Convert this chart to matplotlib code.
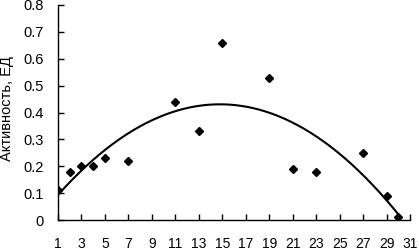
import numpy as np
import matplotlib
matplotlib.use('Agg')
import matplotlib.pyplot as plt

plt.rcParams['font.family'] = ['Liberation Sans', 'DejaVu Sans']

# measured points
days = [1, 2, 3, 4, 5, 7, 11, 13, 15, 19, 21, 23, 27, 29, 30]
activity = [0.11, 0.18, 0.20, 0.20, 0.23, 0.22, 0.44, 0.33, 0.66, 0.53, 0.19, 0.18, 0.25, 0.09, 0.01]
x_ticks = list(range(1, 32, 2))
y_ticks = [0, 0.1, 0.2, 0.3, 0.4, 0.5, 0.6, 0.7, 0.8]
y_labels = ['0', '0.1', '0.2', '0.3', '0.4', '0.5', '0.6', '0.7', '0.8']

fig = plt.figure(figsize=(4.19, 2.5), dpi=100)
ax = fig.add_axes([58 / 419, 30 / 250, 352 / 419, 215 / 250])

# polynomial trend line (order 2), as in the source chart
coef = np.polyfit(days, activity, 2)
xs = np.linspace(days[0], days[-1], 200)
ax.plot(xs, np.polyval(coef, xs), color='black', lw=1.5)

ax.plot(days, activity, linestyle='none', marker='D', color='black', ms=4)

ax.set_xlim(1, 31)
ax.set_ylim(0, 0.8)
ax.set_xticks(x_ticks)
ax.set_yticks(y_ticks)
ax.set_yticklabels(y_labels)
ax.tick_params(axis='x', direction='in', length=4, width=1, pad=12.5, labelsize=10)
ax.tick_params(axis='y', direction='in', length=4, width=1, pad=10, labelsize=10.5)
for side in ['top', 'right']:
    ax.spines[side].set_visible(False)
for side in ['left', 'bottom']:
    ax.spines[side].set_linewidth(1)

ax.set_ylabel('Активность, ЕД', fontsize=10.5)
ax.yaxis.set_label_coords(-0.125, 0.52)

fig.savefig('out.png', dpi=100)
